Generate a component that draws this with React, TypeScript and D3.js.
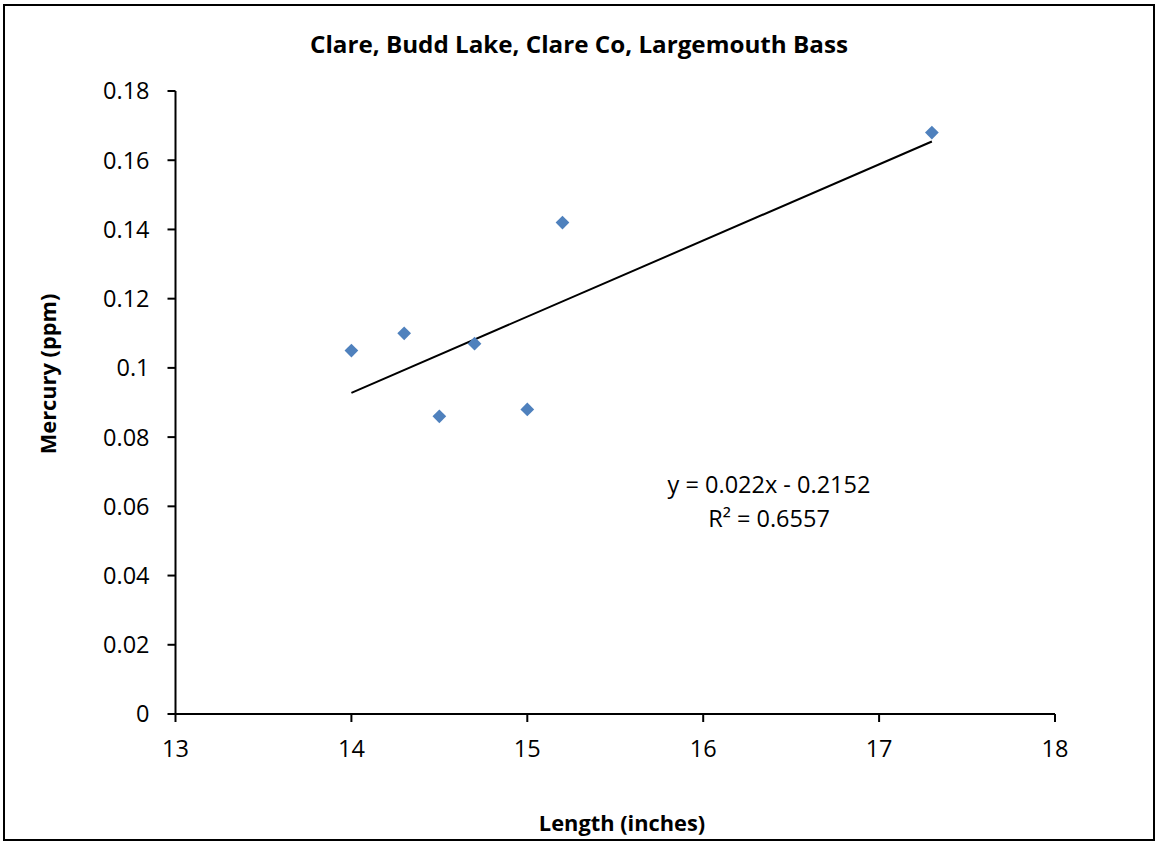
import React from "react";
import * as d3 from "d3";

const lengths = [14.0, 14.3, 14.5, 14.7, 15.0, 15.2, 17.3];
const mercury = [0.105, 0.110, 0.086, 0.107, 0.088, 0.142, 0.168];
const xTicks = [13, 14, 15, 16, 17, 18];
const yTicks = [0, 0.02, 0.04, 0.06, 0.08, 0.1, 0.12, 0.14, 0.16, 0.18];
const slope = 0.022;
const intercept = -0.2152;
const equationText = "y = 0.022x - 0.2152";
const r2Text = "R² = 0.6557";
const title = "Clare, Budd Lake, Clare Co, Largemouth Bass";
const xLabel = "Length (inches)";
const yLabel = "Mercury (ppm)";

const W = 1156, H = 842;
const font = "'Open Sans', sans-serif";

export default function App() {
  const x = d3.scaleLinear().domain([13, 18]).range([175.5, 1055]);
  const y = d3.scaleLinear().domain([0, 0.18]).range([714, 91]);
  const xMin = d3.min(lengths)!, xMax = d3.max(lengths)!;
  const line = d3.line<number>().x(d => x(d)).y(d => y(slope * d + intercept));
  const diamond = d3.symbol().type(d3.symbolDiamond2).size(120)()!;
  return (
    <svg width={W} height={H} style={{ position: "absolute", left: 0, top: 0 }} fontFamily={font}>
      <rect x={0} y={0} width={W} height={H} fill="#fff" />
      <rect x={4} y={5} width={1150} height={835} fill="#fff" stroke="#000" strokeWidth={2} />
      <text x={579} y={53} textAnchor="middle" fontSize={23.5} fontWeight="bold" textLength={538} lengthAdjust="spacingAndGlyphs">{title}</text>
      {/* axes */}
      <line x1={x(13)} x2={x(13)} y1={y(0.18)} y2={y(0)} stroke="#000" strokeWidth={2} />
      <line x1={x(13)} x2={x(18)} y1={y(0)} y2={y(0)} stroke="#000" strokeWidth={2} />
      {yTicks.map(t => (
        <g key={"y" + t}>
          <line x1={x(13) - 8} x2={x(13)} y1={y(t)} y2={y(t)} stroke="#000" strokeWidth={2} />
          <text x={x(13) - 26} y={y(t)} dy="0.36em" textAnchor="end" fontSize={23.5}>{String(t)}</text>
        </g>
      ))}
      {xTicks.map(t => (
        <g key={"x" + t}>
          <line x1={x(t)} x2={x(t)} y1={y(0)} y2={y(0) + 8} stroke="#000" strokeWidth={2} />
          <text x={x(t)} y={y(0) + 43} textAnchor="middle" fontSize={23.5}>{String(t)}</text>
        </g>
      ))}
      <text x={622} y={831} textAnchor="middle" fontSize={21.8} fontWeight="bold">{xLabel}</text>
      <text transform={`translate(56,374) rotate(-90)`} textAnchor="middle" fontSize={21.8} fontWeight="bold">{yLabel}</text>
      <path d={line([xMin, xMax])!} stroke="#000" strokeWidth={2} fill="none" />
      {lengths.map((l, i) => (
        <path key={i} d={diamond} transform={`translate(${x(l)},${y(mercury[i])})`} fill="#4F81BD" />
      ))}
      <text x={769} y={493} textAnchor="middle" fontSize={23.5}>{equationText}</text>
      <text x={769} y={527} textAnchor="middle" fontSize={23.5}>{r2Text}</text>
    </svg>
  );
}
